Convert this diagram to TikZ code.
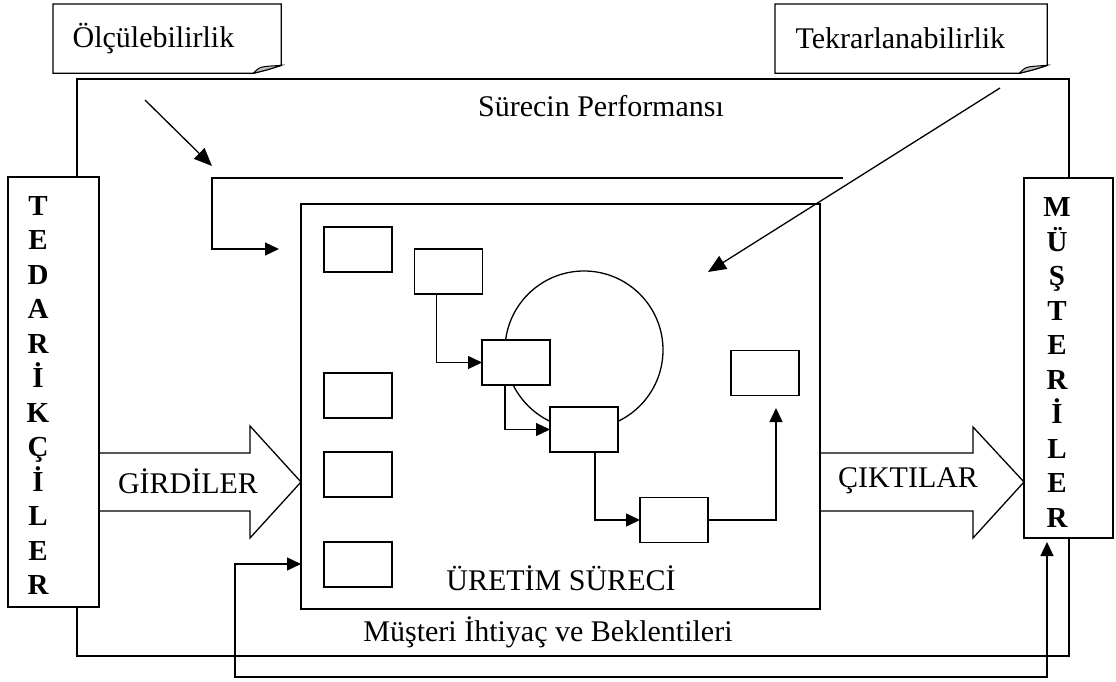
\documentclass[tikz,border=0pt]{standalone}
\usepackage{fontspec}
\setmainfont{Liberation Serif}
\usetikzlibrary{arrows.meta,calc}

\tikzset{
  every path/.style={line width=1.3pt},
  box/.style={draw, fill=white, line width=1.3pt, minimum width=68pt, minimum height=45pt, inner sep=0pt, outer sep=0pt},
  big/.style={draw, fill=white, line width=1.3pt, inner sep=0pt, outer sep=0pt},
  lbl/.style={font=\fontsize{30}{36}\selectfont, inner sep=0pt},
  vert/.style={font=\bfseries\fontsize{29}{34.5}\selectfont, align=center, inner sep=0pt},
  notebox/.style={anchor=north west, inner xsep=19pt, inner ysep=0pt, align=left, font=\fontsize{30}{36}\selectfont},
  tip/.style={-{Triangle[length=14pt,width=13pt]}},
  bigtip/.style={-{Triangle[length=18pt,width=15pt]}},
  fold/.style={fill=black!25, line width=1pt},
}

\begin{document}
\begin{tikzpicture}[x=1pt,y=-1pt]
\useasboundingbox (0,0) rectangle (1116,682);

% suppliers and customers
\node[big, minimum width=91pt, minimum height=430pt] (ted) at (53.5,392) {};
\node[vert] (tedtxt) at (38,395.5) {T\\E\\D\\A\\R\\İ\\K\\Ç\\İ\\L\\E\\R};
\node[big, minimum width=89pt, minimum height=360pt] (mus) at (1068.5,358) {};
\node[vert] (mustxt) at (1057,362.5) {M\\Ü\\Ş\\T\\E\\R\\İ\\L\\E\\R};

% outer performance loop
\coordinate (ltop) at (77,79);
\coordinate (rtop) at (1069,79);
\coordinate (lbot) at (77,656);
\coordinate (rbot) at (1069,656);
\draw (ted.north -| ltop) -- (ltop) -- (rtop) -- (mus.north -| rtop);
\draw (ted.south -| lbot) -- (lbot) -- (rbot) -- (mus.south -| rbot);
\node[lbl] (perf) at (601,106) {Sürecin Performansı};

% notes
\node[notebox, minimum width=227pt, minimum height=68pt, text width=189pt] (n1) at (53,4) {Ölçülebilirlik};
\draw (n1.north west) -- (n1.north east) -- ($(n1.south east)+(0,-8)$)
  .. controls ($(n1.south east)+(-12,-4)$) .. ($(n1.south east)+(-28,0)$) -- (n1.south west) -- cycle;
\draw[fold] ($(n1.south east)+(-28,0)$) .. controls ($(n1.south east)+(-22,-6)$) .. ($(n1.south east)+(-14,-7)$)
  -- ($(n1.south east)+(0,-8)$) .. controls ($(n1.south east)+(-12,-4)$) .. cycle;

\node[notebox, minimum width=271pt, minimum height=68pt, text width=231pt] (n2) at (775,4) {Tekrarlanabilirlik};
\draw (n2.north west) -- (n2.north east) -- ($(n2.south east)+(0,-8)$)
  .. controls ($(n2.south east)+(-12,-4)$) .. ($(n2.south east)+(-28,0)$) -- (n2.south west) -- cycle;
\draw[fold] ($(n2.south east)+(-28,0)$) .. controls ($(n2.south east)+(-22,-6)$) .. ($(n2.south east)+(-14,-7)$)
  -- ($(n2.south east)+(0,-8)$) .. controls ($(n2.south east)+(-12,-4)$) .. cycle;

% production process
\node[big, minimum width=519pt, minimum height=405pt] (proc) at (560.5,406.5) {};
\draw (584,350) circle[radius=79pt];

\node[box] (b1) at (358,249.5) {};
\node[box] (b2) at (448.5,271.5) {};
\node[box] (b3) at (516,362.5) {};
\node[box] (b4) at (584,429.5) {};
\node[box] (b5) at (765,373) {};
\node[box] (b6) at (674,520) {};
\node[box] (l1) at (358,395.5) {};
\node[box] (l2) at (358,474.5) {};
\node[box] (l3) at (358,564.5) {};

\draw[tip] ($(b2.south west)+(22,0)$) |- (b3.west);
\draw[tip] ($(b3.south west)+(23,0)$) |- (b4.west);
\draw[tip] ($(b4.south west)+(45,0)$) |- (b6.west);
\coordinate (b5in) at (776,408);
\draw[tip] (b6.east) -| (b5in);

\node[lbl] (uret) at (561,578) {ÜRETİM SÜRECİ};

% inner measurement line
\coordinate (pf1) at (843,178);
\coordinate (pf2) at (212,178);
\coordinate (pf3) at (279,249);
\draw[tip] (pf1) -- (pf2) |- (pf3);

% note pointers
\coordinate (m1) at (145,100);
\coordinate (m2) at (212,166);
\draw[bigtip] (m1) -- (m2);
\coordinate (r1) at (1000,88);
\coordinate (r2) at (708,272);
\draw[bigtip] (r1) -- (r2);

% inputs and outputs
\draw (ted.east |- 0,453) -- (250,453) -- (250,426) -- (proc.west |- 0,482) -- (250,538) -- (250,511) -- (ted.east |- 0,511);
\node[lbl] (gir) at (188,481) {GİRDİLER};
\draw (proc.east |- 0,453) -- (973,453) -- (973,427) -- (mus.west |- 0,482) -- (973,538) -- (973,511) -- (proc.east |- 0,511);
\node[lbl] (cik) at (908,481) {ÇIKTILAR};

% customer needs feedback
\coordinate (fb1) at (235,564);
\coordinate (fb2) at (1047,677);
\draw[{Triangle[length=14pt,width=13pt]}-{Triangle[length=14pt,width=13pt]}, shorten >=4pt]
  (proc.west |- fb1) -- (fb1) |- (fb2) -- (mus.south -| fb2);
\node[lbl] (need) at (548,632) {Müşteri İhtiyaç ve Beklentileri};
\end{tikzpicture}
\end{document}
